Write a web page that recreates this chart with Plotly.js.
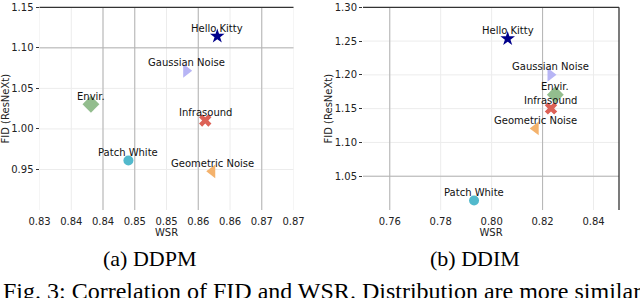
<!DOCTYPE html>
<html>
<head>
<meta charset="utf-8">
<script src="https://cdn.plot.ly/plotly-3.0.1.min.js"></script>
<style>
  html, body { margin: 0; padding: 0; background: #fff; }
  #chart { width: 640px; height: 298px; }
</style>
</head>
<body>
<div id="chart"></div>
<script>
// ---- data ----
const labels = ["Hello Kitty", "Gaussian Noise", "Envir.", "Infrasound", "Patch White", "Geometric Noise"];
const ddpmWSR = [0.8580, 0.8531, 0.8381, 0.8561, 0.8440, 0.8572];
const ddpmFID = [1.1143, 1.0718, 1.0305, 1.0105, 0.9610, 0.9477];
const ddimWSR = [0.8063, 0.8231, 0.8250, 0.8233, 0.7931, 0.8173];
const ddimFID = [1.2535, 1.2001, 1.1706, 1.1504, 1.0141, 1.1208];

const ddpmXTickVals = [0.830, 0.835, 0.840, 0.845, 0.850, 0.855, 0.860, 0.865, 0.870];
const ddpmXTickText = ["0.83", "0.84", "0.84", "0.85", "0.85", "0.86", "0.86", "0.87", "0.87"];
const ddpmYTickVals = [0.95, 1.00, 1.05, 1.10, 1.15];
const ddpmYTickText = ["0.95", "1.00", "1.05", "1.10", "1.15"];
const ddimXTickVals = [0.76, 0.78, 0.80, 0.82, 0.84];
const ddimXTickText = ["0.76", "0.78", "0.80", "0.82", "0.84"];
const ddimYTickVals = [1.05, 1.10, 1.15, 1.20, 1.25, 1.30];
const ddimYTickText = ["1.05", "1.10", "1.15", "1.20", "1.25", "1.30"];

// emphasized grid lines (tick values)
const ddpmDarkX = [0.840, 0.845, 0.855, 0.865];
const ddpmDarkY = [1.10];
const ddimDarkX = [0.76, 0.82];
const ddimDarkY = [1.05];

// ---- styles ----
const symbols = ["star", "triangle-right", "diamond", "x", "circle", "triangle-left"];
const colors  = ["#00008b", "#b7b5f5", "#93bd8e", "#dc6156", "#52b9cc", "#f4b26c"];
const sizes   = [11, 12, 13, 11, 10, 12];

const FONT = "DejaVu Sans, sans-serif";

const traces = [];
for (let i = 0; i < labels.length; i++) {
  traces.push({
    type: "scatter", mode: "markers", xaxis: "x", yaxis: "y",
    x: [ddpmWSR[i]], y: [ddpmFID[i]], name: labels[i], showlegend: false,
    marker: { symbol: symbols[i], color: colors[i], size: sizes[i], line: { width: 0 } },
    hoverinfo: "skip"
  });
  traces.push({
    type: "scatter", mode: "markers", xaxis: "x2", yaxis: "y2",
    x: [ddimWSR[i]], y: [ddimFID[i]], name: labels[i], showlegend: false,
    marker: { symbol: symbols[i], color: colors[i], size: sizes[i], line: { width: 0 } },
    hoverinfo: "skip"
  });
}

const annotations = [];
for (let i = 0; i < labels.length; i++) {
  annotations.push({ xref: "x", yref: "y", x: ddpmWSR[i], y: ddpmFID[i], text: labels[i],
    showarrow: false, yshift: 8, font: { family: FONT, size: 10, color: "#111" } });
  annotations.push({ xref: "x2", yref: "y2", x: ddimWSR[i], y: ddimFID[i], text: labels[i],
    showarrow: false, yshift: 8, font: { family: FONT, size: 10, color: "#111" } });
}
// captions
const SERIF = "Liberation Serif, Times New Roman, serif";
annotations.push({ xref: "paper", yref: "paper", x: 150 / 640, y: 1 - 258 / 298, text: "(a) DDPM",
  showarrow: false, xanchor: "center", yanchor: "middle",
  font: { family: SERIF, size: 22, color: "#000" } });
annotations.push({ xref: "paper", yref: "paper", x: 475 / 640, y: 1 - 258 / 298, text: "(b) DDIM",
  showarrow: false, xanchor: "center", yanchor: "middle",
  font: { family: SERIF, size: 22, color: "#000" } });
annotations.push({ xref: "paper", yref: "paper", x: 1 / 640, y: 1 - 290.5 / 298,
  text: "Fig. 3: Correlation of FID and WSR. Distribution are more similar",
  showarrow: false, xanchor: "left", yanchor: "middle",
  font: { family: SERIF, size: 24, color: "#000" } });

const shapes = [];
const faintLine = { color: "#ececec", width: 1 };
const darkLine = { color: "#b3b3b3", width: 1 };
function vLines(vals, xr, yr, line) {
  vals.forEach(v => shapes.push({ type: "line", xref: xr, yref: yr + " domain", x0: v, x1: v, y0: 0, y1: 1, line: line, layer: "below" }));
}
function hLines(vals, xr, yr, line) {
  vals.forEach(v => shapes.push({ type: "line", xref: xr + " domain", yref: yr, x0: 0, x1: 1, y0: v, y1: v, line: line, layer: "below" }));
}
vLines(ddpmXTickVals, "x", "y", faintLine);
hLines(ddpmYTickVals.slice(0, -1), "x", "y", faintLine);
vLines(ddimXTickVals, "x2", "y2", faintLine);
hLines(ddimYTickVals.slice(0, -1), "x2", "y2", faintLine);
vLines(ddpmDarkX, "x", "y", darkLine);
hLines(ddpmDarkY, "x", "y", darkLine);
vLines(ddimDarkX, "x2", "y2", darkLine);
hLines(ddimDarkY, "x2", "y2", darkLine);
// spines
const spine = { color: "#333", width: 1.3 };
shapes.push({ type: "line", xref: "x domain", yref: "y domain", x0: 0, x1: 1, y0: 1, y1: 1, line: spine });
shapes.push({ type: "line", xref: "x2 domain", yref: "y2 domain", x0: 0, x1: 1, y0: 1, y1: 1, line: spine });
shapes.push({ type: "line", xref: "x2 domain", yref: "y2 domain", x0: 1, x1: 1, y0: 0, y1: 1, line: spine });

const yDomain = [88 / 298, 290.7 / 298];
const tickFont = { family: FONT, size: 10, color: "#222" };
const titleFont = { family: FONT, size: 10, color: "#222" };

const xCommon = { showgrid: false, zeroline: false, showline: false,
  ticks: "", ticklabelstandoff: 4, tickfont: tickFont, automargin: false, fixedrange: true };
const yCommon = { showgrid: false, zeroline: false, showline: false,
  ticks: "outside", ticklen: 3, tickcolor: "#333", tickwidth: 1, tickfont: tickFont, automargin: false, fixedrange: true };

const layout = {
  width: 640, height: 298,
  margin: { l: 0, r: 0, t: 0, b: 0 },
  paper_bgcolor: "#fff", plot_bgcolor: "rgba(0,0,0,0)",
  showlegend: false,
  xaxis: Object.assign({}, xCommon, {
    domain: [39.5 / 640, 293.5 / 640], range: [0.830, 0.870],
    tickmode: "array", tickvals: ddpmXTickVals, ticktext: ddpmXTickText,
    title: { text: "WSR", font: titleFont, standoff: 0 }, anchor: "y"
  }),
  yaxis: Object.assign({}, yCommon, {
    domain: yDomain, range: [0.90, 1.15],
    tickmode: "array", tickvals: ddpmYTickVals, ticktext: ddpmYTickText,
    title: { text: "FID (ResNeXt)", font: titleFont, standoff: 4 }, anchor: "x"
  }),
  xaxis2: Object.assign({}, xCommon, {
    domain: [363 / 640, 619 / 640], range: [0.7495, 0.8500],
    tickmode: "array", tickvals: ddimXTickVals, ticktext: ddimXTickText,
    title: { text: "WSR", font: titleFont, standoff: 0 }, anchor: "y2"
  }),
  yaxis2: Object.assign({}, yCommon, {
    domain: yDomain, range: [1.00, 1.30],
    tickmode: "array", tickvals: ddimYTickVals, ticktext: ddimYTickText,
    title: { text: "FID (ResNeXt)", font: titleFont, standoff: 0 }, anchor: "x2"
  }),
  shapes: shapes,
  annotations: annotations
};

Plotly.newPlot("chart", traces, layout, { staticPlot: true, displayModeBar: false });
</script>
</body>
</html>
